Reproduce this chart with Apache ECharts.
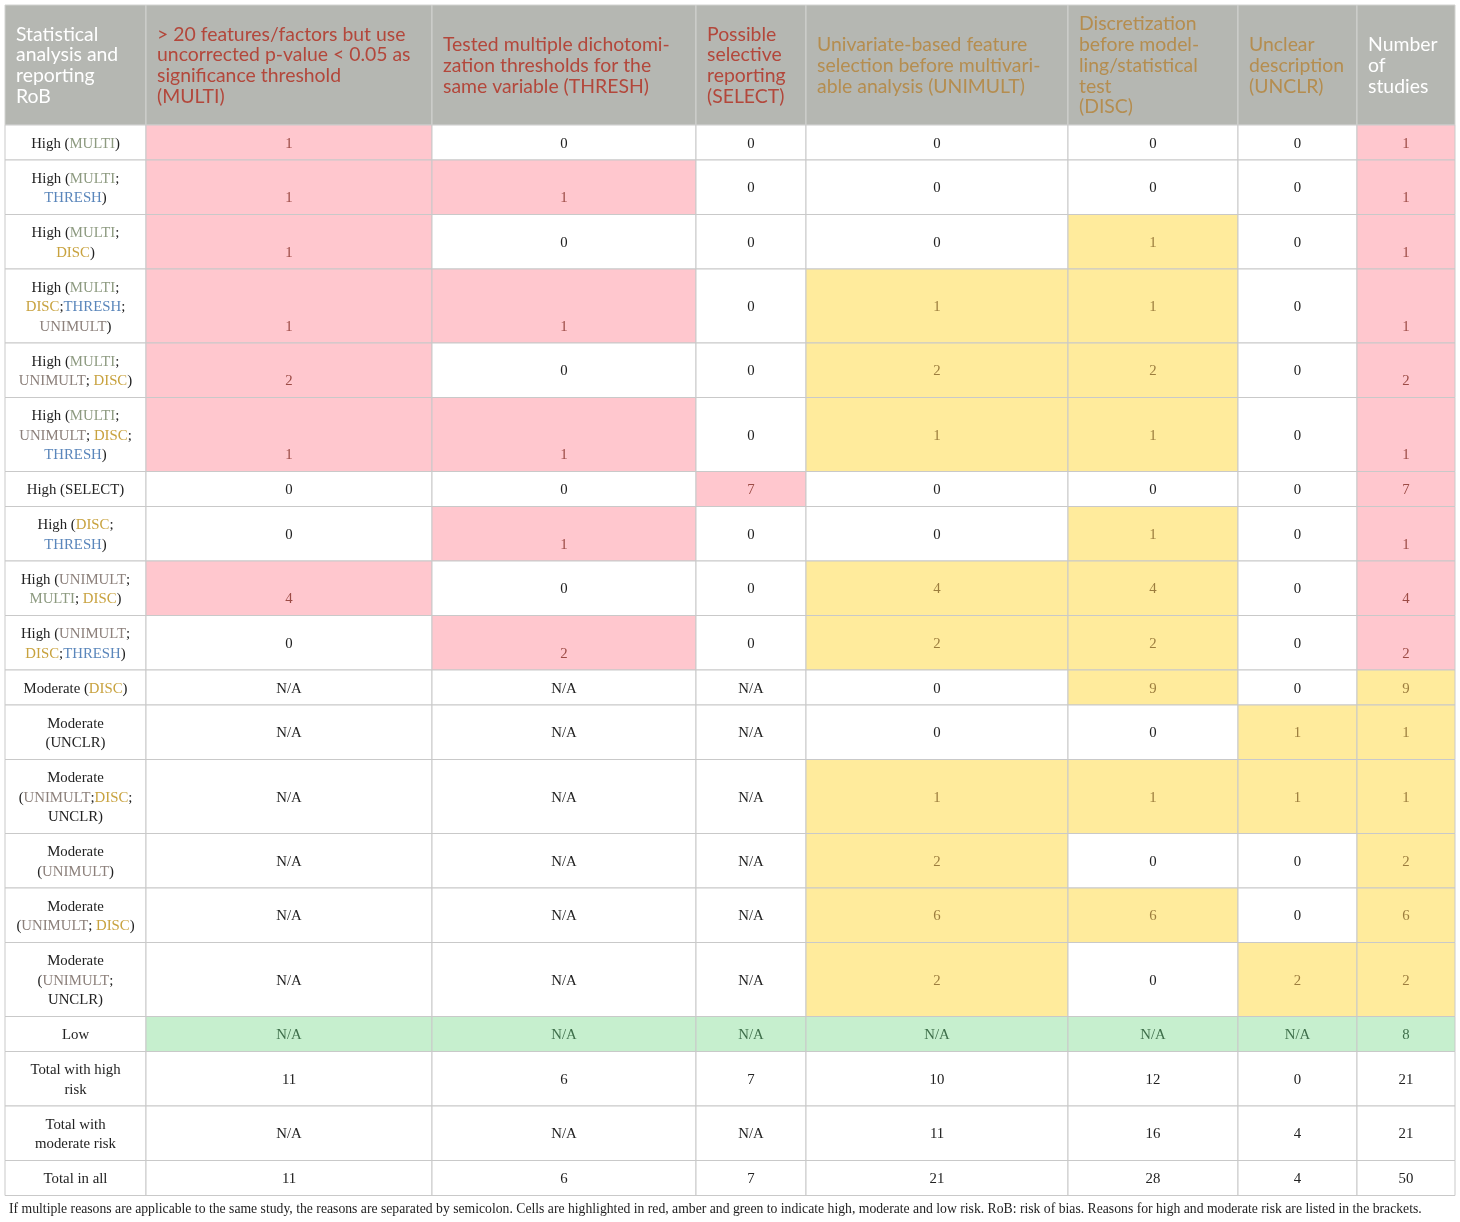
<!DOCTYPE html>
<html>
<head>
<meta charset="utf-8">
<script src="https://cdn.jsdelivr.net/npm/echarts@6/dist/echarts.min.js"></script>
<style>
html,body{margin:0;padding:0;background:#fff;}
#chart{width:1460px;height:1222px;}
</style>
</head>
<body>
<div id="chart"></div>
<script>
// ---------- DATA ----------
const headers = [
  'Statistical\nanalysis and\nreporting\nRoB',
  '> 20 features/factors but use\nuncorrected p-value < 0.05 as\nsignificance threshold\n(MULTI)',
  'Tested multiple dichotomi-\nzation thresholds for the\nsame variable (THRESH)',
  'Possible\nselective\nreporting\n(SELECT)',
  'Univariate-based feature\nselection before multivari-\nable analysis (UNIMULT)',
  'Discretization\nbefore model-\nling/statistical\ntest\n(DISC)',
  'Unclear\ndescription\n(UNCLR)',
  'Number\nof\nstudies'
];
const headerTone = ['w', 'r', 'r', 'r', 'g', 'g', 'g', 'w'];

// Row labels (rich-text markup: m=MULTI, t=THRESH, d=DISC, u=UNIMULT)
const rowLabels = [
  'High ({m|MULTI})',
  'High ({m|MULTI};\n{t|THRESH})',
  'High ({m|MULTI};\n{d|DISC})',
  'High ({m|MULTI};\n{d|DISC};{t|THRESH};\n{u|UNIMULT})',
  'High ({m|MULTI};\n{u|UNIMULT}; {d|DISC})',
  'High ({m|MULTI};\n{u|UNIMULT}; {d|DISC};\n{t|THRESH})',
  'High (SELECT)',
  'High ({d|DISC};\n{t|THRESH})',
  'High ({u|UNIMULT};\n{m|MULTI}; {d|DISC})',
  'High ({u|UNIMULT};\n{d|DISC};{t|THRESH})',
  'Moderate ({d|DISC})',
  'Moderate\n(UNCLR)',
  'Moderate\n({u|UNIMULT};{d|DISC};\nUNCLR)',
  'Moderate\n({u|UNIMULT})',
  'Moderate\n({u|UNIMULT}; {d|DISC})',
  'Moderate\n({u|UNIMULT};\nUNCLR)',
  'Low',
  'Total with high\nrisk',
  'Total with\nmoderate risk',
  'Total in all'
];

const NA = 'N/A';
const colMULTI   = ['1','1','1','1','2','1','0','0','4','0', NA, NA, NA, NA, NA, NA, NA, '11', NA, '11'];
const colTHRESH  = ['0','1','0','1','0','1','0','1','0','2', NA, NA, NA, NA, NA, NA, NA, '6', NA, '6'];
const colSELECT  = ['0','0','0','0','0','0','7','0','0','0', NA, NA, NA, NA, NA, NA, NA, '7', NA, '7'];
const colUNIMULT = ['0','0','0','1','2','1','0','0','4','2', '0','0','1','2','6','2', NA, '10','11','21'];
const colDISC    = ['0','0','1','1','2','1','0','1','4','2', '9','0','1','0','6','0', NA, '12','16','28'];
const colUNCLR   = ['0','0','0','0','0','0','0','0','0','0', '0','1','1','0','0','2', NA, '0','4','4'];
const colNumber  = ['1','1','1','1','2','1','7','1','4','2', '9','1','1','2','6','2', '8', '21','21','50'];

// Highlight per row, one letter per value column: R = high (red), A = moderate (amber), G = low (green), . = none
const highlight = [
  'R.....R',
  'RR....R',
  'R...A.R',
  'RR.AA.R',
  'R..AA.R',
  'RR.AA.R',
  '..R...R',
  '.R..A.R',
  'R..AA.R',
  '.R.AA.R',
  '....A.A',
  '.....AA',
  '...AAAA',
  '...A..A',
  '...AA.A',
  '...A.AA',
  'GGGGGGG',
  '.......',
  '.......',
  '.......'
];

const footnote = 'If multiple reasons are applicable to the same study, the reasons are separated by semicolon. Cells are highlighted in red, amber and green to indicate high, moderate and low risk. RoB: risk of bias. Reasons for high and moderate risk are listed in the brackets.';

// ---------- LAYOUT (styles, not data) ----------
const colWidths = [141, 286, 264, 110, 262, 170, 119, 98];
const headerHeight = 120;
const lineRowHeight = {1: 35, 2: 54.5, 3: 74};

const valueCols = [colMULTI, colTHRESH, colSELECT, colUNIMULT, colDISC, colUNCLR, colNumber];

const colEdges = [0];
colWidths.forEach(w => colEdges.push(colEdges[colEdges.length - 1] + w));
const rowEdges = [0, headerHeight];
rowLabels.forEach(l => {
  const n = l.split('\n').length;
  rowEdges.push(rowEdges[rowEdges.length - 1] + lineRowHeight[n]);
});
const totalW = colEdges[colEdges.length - 1];
const totalH = rowEdges[rowEdges.length - 1];

const FILL = { R: '#ffc7ce', A: '#ffeb9c', G: '#c6efce', '.': '#ffffff' };
const TEXT = { R: '#9c4b45', A: '#9c7d3e', G: '#3e6e4a', '.': '#222222' };
const HEAD_TEXT = { w: '#ffffff', r: '#b3473b', g: '#b58d4f' };
const SERIF = '"Liberation Serif", "DejaVu Serif", serif';
const SANS = 'Lato, "Open Sans", sans-serif';
const BODY_SIZE = 14.8;
const TEXT_SHIFT = 1.2;

function richStyle(col) {
  return { fill: col, fontFamily: SERIF, fontSize: BODY_SIZE, lineHeight: 19.5 };
}
const labelRich = {
  m: richStyle('#8d9a80'),
  t: richStyle('#5a86bb'),
  d: richStyle('#c8a23e'),
  u: richStyle('#8c807b')
};

// cell data: [col, row]
const cells = [];
headers.forEach((h, c) => cells.push([c, 0]));
rowLabels.forEach((l, r) => {
  for (let c = 0; c < 8; c++) cells.push([c, r + 1]);
});

function renderItem(params, api) {
  const c = api.value(0), r = api.value(1);
  const p0 = api.coord([colEdges[c], rowEdges[r]]);
  const p1 = api.coord([colEdges[c + 1], rowEdges[r + 1]]);
  const x = p0[0], y = p0[1], w = p1[0] - p0[0], h = p1[1] - p0[1];
  const children = [];
  if (r === 0) {
    children.push({
      type: 'rect', shape: { x, y, width: w, height: h },
      style: { fill: '#b5b7b2', stroke: '#d2d3d0', lineWidth: 1 }
    });
    children.push({
      type: 'text',
      style: {
        text: headers[c], x: x + 11, y: y + h / 2 + 0.5,
        align: 'left', verticalAlign: 'middle',
        fill: HEAD_TEXT[headerTone[c]],
        fontFamily: SANS, fontSize: 19.4, lineHeight: 20.8
      }
    });
  } else {
    const ri = r - 1;
    let code = '.';
    let txt, color;
    if (c === 0) {
      txt = rowLabels[ri];
      color = '#222222';
    } else {
      code = highlight[ri][c - 1];
      txt = valueCols[c - 1][ri];
      color = TEXT[code];
    }
    children.push({
      type: 'rect', shape: { x, y, width: w, height: h },
      style: { fill: FILL[code], stroke: '#c9c9c9', lineWidth: 1 }
    });
    const ty = ((code === 'R') ? (y + h - 17.5) : (y + h / 2)) + TEXT_SHIFT;
    const st = {
      text: txt, x: x + w / 2, y: ty,
      align: 'center', verticalAlign: 'middle',
      fill: color, fontFamily: SERIF, fontSize: BODY_SIZE, lineHeight: 19.5
    };
    if (c === 0) st.rich = labelRich;
    children.push({ type: 'text', style: st });
  }
  return { type: 'group', children };
}

const chart = echarts.init(document.getElementById('chart'), null, { renderer: 'canvas' });
chart.setOption({
  animation: false,
  backgroundColor: '#ffffff',
  title: {
    text: footnote, left: 4, top: 1197,
    textStyle: { fontFamily: SERIF, fontSize: 13.7, fontWeight: 'normal', color: '#222222' }
  },
  grid: { left: 5, top: 5, width: totalW, height: totalH },
  xAxis: { type: 'value', min: 0, max: totalW, show: false },
  yAxis: { type: 'value', min: 0, max: totalH, inverse: true, show: false },
  series: [{
    type: 'custom',
    renderItem,
    clip: false,
    silent: true,
    data: cells
  }]
});
</script>
</body>
</html>
